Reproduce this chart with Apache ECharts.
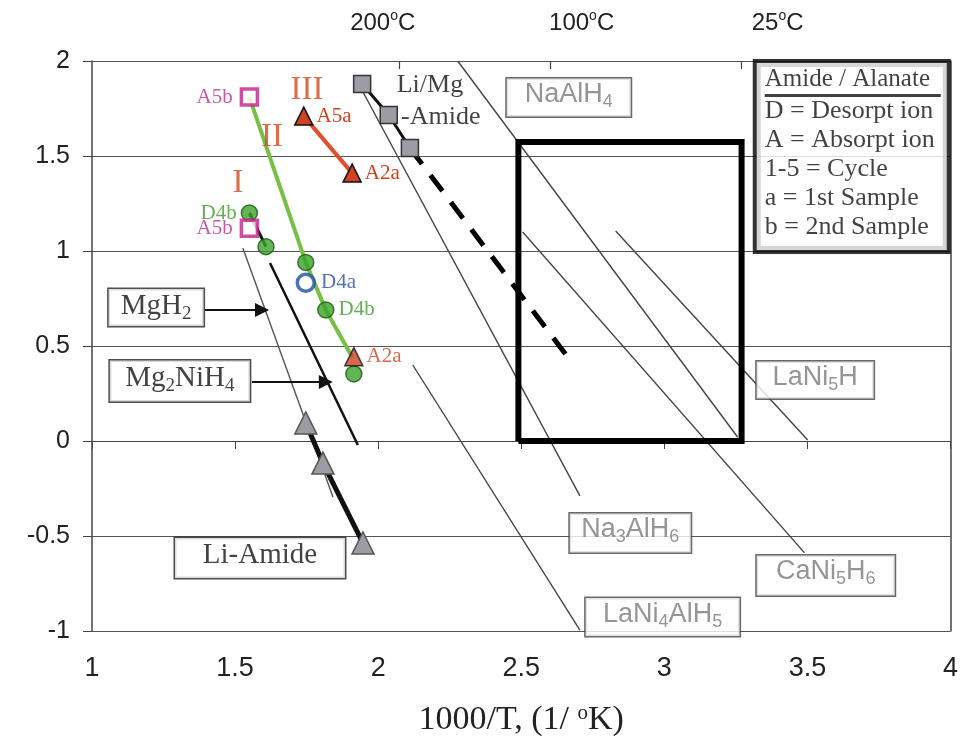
<!DOCTYPE html>
<html>
<head>
<meta charset="utf-8">
<script src="https://cdn.jsdelivr.net/npm/echarts@6/dist/echarts.min.js"></script>
<style>
  html, body { margin: 0; padding: 0; background: #fff; }
  #chart { width: 961px; height: 743px; }
</style>
</head>
<body>
<div id="chart"></div>
<script>
// Axis ranges and tick labels
const xTicks = [1, 1.5, 2, 2.5, 3, 3.5, 4];
const yTicks = [-1, -0.5, 0, 0.5, 1, 1.5, 2];
const tempLabels = ['200', '100', '25'];
const tempLabelX = [2.016, 2.711, 3.396];
const tempTickX = [2.072, 2.603, 3.27];

// Li/Mg-Amide measurements and extrapolation
const liMgX = [1.944, 2.037, 2.111];
const liMgY = [1.879, 1.716, 1.542];
const liMgExtX = [2.111, 2.681];
const liMgExtY = [1.542, 0.405];

// Alanate series (II: green line, III: red line)
const seriesIIX = [1.55, 1.747, 1.817, 1.91];
const seriesIIY = [1.81, 0.94, 0.69, 0.44];
const seriesIIIX = [1.74, 1.909];
const seriesIIIY = [1.71, 1.41];
const seriesIX = [1.55, 1.608];
const seriesIY = [1.2, 1.023];

// Individual points
const greenX = [1.55, 1.608, 1.747, 1.817, 1.915];
const greenY = [1.2, 1.023, 0.94, 0.69, 0.353];
const greenTags = ['D4b', '', '', 'D4b', ''];
const magentaX = [1.55, 1.55];
const magentaY = [1.81, 1.12];
const blueX = [1.747];
const blueY = [0.833];
const redLowX = [1.915];
const redLowY = [0.444];

// Li-Amide
const liAmideX = [1.747, 1.807, 1.947];
const liAmideY = [0.095, -0.116, -0.537];

// Reference hydride lines [x0, y0, x1, y1]
const mgH2Line = [1.527, 1.016, 1.842, -0.295];
const mg2NiH4Line = [1.622, 0.937, 1.929, -0.021];
const na3AlH6Line = [1.947, 1.837, 2.705, -0.289];
const naAlH4Line = [2.278, 2.0, 3.256, 0.021];
const caNi5H6Line = [2.505, 1.1, 3.49, -0.589];
const laNi5HLine = [2.83, 1.105, 3.501, 0.005];
const laNi4AlH5Line = [2.121, 0.4, 2.705, -0.995];

// Target window
const boxX = [2.49, 2.49, 3.27, 3.27, 2.49];
const boxY = [0, 1.574, 1.574, 0, 0];

const SERIF = 'Liberation Serif, Times New Roman, serif';
const SANS = 'Liberation Sans, Arial, sans-serif';
const NARROW = 'Liberation Sans Narrow, Arial Narrow, Liberation Sans, sans-serif';

const pairs = (xs, ys) => xs.map((x, i) => [x, ys[i]]);
const seg = (l) => [[l[0], l[1]], [l[2], l[3]]];

function richSet(family, size, color) {
  return {
    t: { fontFamily: family, fontSize: size, color: color, lineHeight: size + 6 },
    s: { fontFamily: family, fontSize: Math.round(size * 0.65), color: color, lineHeight: Math.round(size * 0.6), verticalAlign: 'bottom' },
    p: { fontFamily: family, fontSize: Math.round(size * 0.6), color: color, lineHeight: Math.round(size * 0.6), verticalAlign: 'top' }
  };
}

function thinLine(l, color, width) {
  return {
    type: 'line', data: seg(l), symbol: 'none', silent: true, z: 2,
    lineStyle: { color: color, width: width }
  };
}

// Framed annotation: [x, y, rich text, width, height, family, size, color, border]
const framed = [
  [1.224, 0.703, '{t|MgH}{s|2}', 98, 40, SERIF, 29, '#111', '#222'],
  [1.307, 0.316, '{t|Mg}{s|2}{t|NiH}{s|4}', 143, 44, SERIF, 29, '#111', '#222'],
  [1.587, -0.616, '{t|Li-Amide}', 173, 43, SERIF, 29, '#111', '#222'],
  [2.666, 1.808, '{t|NaAlH}{s|4}', 127, 41, SANS, 27, '#7a7a7a', '#444'],
  [3.527, 0.321, '{t|LaNi}{s|5}{t|H}', 120, 40, SANS, 27, '#7a7a7a', '#444'],
  [2.881, -0.484, '{t|Na}{s|3}{t|AlH}{s|6}', 124, 42, SANS, 27, '#7a7a7a', '#444'],
  [3.564, -0.708, '{t|CaNi}{s|5}{t|H}{s|6}', 141, 43, SANS, 27, '#7a7a7a', '#444'],
  [2.994, -0.926, '{t|LaNi}{s|4}{t|AlH}{s|5}', 157, 41, SANS, 27, '#7a7a7a', '#444']
];

// Free text: [x, y, text, family, size, color]
const freeText = [
  [1.751, 1.847, 'III', SERIF, 33, '#cf4a1e'],
  [1.629, 1.6, 'II', SERIF, 33, '#cf4a1e'],
  [1.51, 1.358, 'I', SERIF, 33, '#cf4a1e'],
  [2.181, 1.874, 'Li/Mg', SERIF, 26, '#111'],
  [2.219, 1.705, '-Amide', SERIF, 26, '#111']
];

const legendLines = ['D = Desorpt ion', 'A = Absorpt ion', '1-5 = Cycle', 'a = 1st Sample', 'b = 2nd Sample'];
const legendTitle = 'Amide / Alanate';
const legendAnchor = [3.323, 1.99];

const chart = echarts.init(document.getElementById('chart'));

const axisColor = '#444';

const option = {
  animation: false,
  backgroundColor: '#fff',
  grid: { left: 92, right: 10, top: 61, bottom: 112 },
  xAxis: [
    {
      type: 'value', min: 1, max: 4, interval: 0.5, position: 'bottom',
      axisLine: { show: false, onZero: false },
      axisTick: { show: false },
      splitLine: { show: false },
      axisLabel: { fontFamily: NARROW, fontSize: 27, color: '#222', margin: 24 },
      name: '1000/T, (1/ {p|o}K)', nameLocation: 'middle', nameGap: 72,
      nameTextStyle: {
        fontFamily: SERIF, fontSize: 34, color: '#222',
        rich: { p: { fontFamily: SERIF, fontSize: 21, color: '#222', verticalAlign: 'top', lineHeight: 21 } }
      }
    },
    {
      type: 'value', min: 1, max: 4, interval: 0.5, position: 'bottom',
      axisLine: { show: true, onZero: true, onZeroAxisIndex: 0, lineStyle: { color: axisColor, width: 1 } },
      axisTick: { show: true, length: 8, lineStyle: { color: axisColor } },
      axisLabel: { show: false },
      splitLine: { show: false }
    },
    {
      type: 'value', min: 1, max: 4, position: 'top',
      axisLine: { show: false, onZero: false },
      axisTick: { show: true, inside: true, length: 8, customValues: tempTickX, lineStyle: { color: axisColor, width: 1.2 } },
      axisLabel: {
        customValues: tempLabelX, margin: 24,
        formatter: (v) => {
          let best = 0;
          tempLabelX.forEach((p, i) => { if (Math.abs(p - v) < Math.abs(tempLabelX[best] - v)) best = i; });
          return '{t|' + tempLabels[best] + '}{p|o}{t|C}';
        },
        rich: {
          t: { fontFamily: NARROW, fontSize: 24, color: '#222', lineHeight: 28 },
          p: { fontFamily: NARROW, fontSize: 14, color: '#222', lineHeight: 14, verticalAlign: 'top' }
        }
      },
      splitLine: { show: false }
    }
  ],
  yAxis: [
    {
      type: 'value', min: -1, max: 2, interval: 0.5,
      axisLine: { show: true, onZero: false, lineStyle: { color: axisColor, width: 1.5 } },
      axisTick: { show: true, length: 9, lineStyle: { color: axisColor } },
      axisLabel: { fontFamily: NARROW, fontSize: 25, color: '#222', margin: 22 },
      splitLine: { show: true, lineStyle: { color: '#555', width: 1.2 } }
    },
    {
      type: 'value', min: -1, max: 2, interval: 0.5, position: 'right',
      axisLine: { show: true, onZero: false, lineStyle: { color: axisColor, width: 1.5 } },
      axisTick: { show: false }, axisLabel: { show: false }, splitLine: { show: false }
    }
  ],
  series: [
    thinLine(mgH2Line, '#555', 1.4),
    thinLine(mg2NiH4Line, '#111', 2.5),
    thinLine(na3AlH6Line, '#444', 1.4),
    thinLine(naAlH4Line, '#444', 1.4),
    thinLine(caNi5H6Line, '#444', 1.4),
    thinLine(laNi5HLine, '#444', 1.4),
    thinLine(laNi4AlH5Line, '#444', 1.4),
    {
      name: 'Window', type: 'line', data: pairs(boxX, boxY), symbol: 'none', z: 3,
      lineStyle: { color: '#000', width: 6, join: 'miter' }
    },
    {
      name: 'Li/Mg extrapolation', type: 'line', data: pairs(liMgExtX, liMgExtY), symbol: 'none', z: 3,
      lineStyle: { color: '#000', width: 5, type: [20, 14] }
    },
    {
      name: 'Li/Mg-Amide', type: 'line', data: pairs(liMgX, liMgY), z: 5,
      symbol: 'rect', symbolSize: 17,
      lineStyle: { color: '#111', width: 3 },
      itemStyle: { color: '#9c9ca4', borderColor: '#333', borderWidth: 1.5 }
    },
    {
      name: 'Li-Amide', type: 'line', data: pairs(liAmideX, liAmideY), z: 5,
      symbol: 'triangle', symbolSize: 22,
      lineStyle: { color: '#111', width: 5 },
      itemStyle: { color: '#9c9ca4', borderColor: '#555', borderWidth: 1.5 }
    },
    {
      name: 'II', type: 'line', data: pairs(seriesIIX, seriesIIY), symbol: 'none', z: 4,
      lineStyle: { color: '#77c043', width: 4 }
    },
    {
      name: 'I', type: 'line', data: pairs(seriesIX, seriesIY), symbol: 'none', z: 4,
      lineStyle: { color: '#111', width: 3 }
    },
    {
      name: 'III', type: 'line', z: 6,
      data: pairs(seriesIIIX, seriesIIIY).map((p, i) => ({
        value: p,
        label: { show: true, position: 'right', distance: 3, formatter: i === 0 ? 'A5a' : 'A2a', fontFamily: SERIF, fontSize: 21, color: '#d0401a' }
      })),
      symbol: 'triangle', symbolSize: 18,
      lineStyle: { color: '#e0502a', width: 4 },
      itemStyle: { color: '#cc4420', borderColor: '#111', borderWidth: 1.5 }
    },
    {
      name: 'Green points', type: 'scatter', z: 6,
      data: pairs(greenX, greenY).map((p, i) => ({
        value: p,
        label: {
          show: greenTags[i] !== '', position: i === 0 ? 'left' : 'right', distance: 4,
          formatter: greenTags[i], fontFamily: SERIF, fontSize: 21, color: '#3d9a2a'
        }
      })),
      symbol: 'circle', symbolSize: 16,
      itemStyle: { color: '#3aa22a', borderColor: '#1d5a12', borderWidth: 1.5 }
    },
    {
      name: 'Magenta points', type: 'scatter', z: 6,
      data: pairs(magentaX, magentaY).map((p) => ({
        value: p,
        label: { show: true, position: 'left', distance: 7, formatter: 'A5b', fontFamily: SERIF, fontSize: 21, color: '#b8308e' }
      })),
      symbol: 'rect', symbolSize: 16,
      itemStyle: { color: '#fff', borderColor: '#c0208a', borderWidth: 3.5 }
    },
    {
      name: 'Blue point', type: 'scatter', z: 6,
      data: pairs(blueX, blueY).map((p) => ({
        value: p,
        label: { show: true, position: 'right', distance: 5, formatter: 'D4a', fontFamily: SERIF, fontSize: 21, color: '#2850a0' }
      })),
      symbol: 'circle', symbolSize: 17,
      itemStyle: { color: '#fff', borderColor: '#1f4fa8', borderWidth: 3.5 }
    },
    {
      name: 'Red point', type: 'scatter', z: 7,
      data: pairs(redLowX, redLowY).map((p) => ({
        value: p,
        label: { show: true, position: 'right', distance: 3, formatter: 'A2a', fontFamily: SERIF, fontSize: 21, color: '#d0401a' }
      })),
      symbol: 'triangle', symbolSize: 18,
      itemStyle: { color: '#cc4420', borderColor: '#111', borderWidth: 1.5 }
    },
    {
      name: 'Arrows', type: 'lines', coordinateSystem: 'cartesian2d', z: 8,
      symbol: ['none', 'triangle'], symbolSize: [0, 14],
      lineStyle: { color: '#111', width: 2, opacity: 1 },
      data: [
        { coords: [[1.395, 0.689], [1.594, 0.689]] },
        { coords: [[1.559, 0.311], [1.817, 0.311]] }
      ]
    },
    {
      name: 'Framed labels', type: 'scatter', z: 9, symbolSize: 0, silent: true,
      data: framed.map((f) => ({
        value: [f[0], f[1]],
        label: {
          show: true, position: 'inside', formatter: f[2],
          width: f[3] - 3, height: f[4] - 3, align: 'center', verticalAlign: 'middle',
          backgroundColor: '#fff', borderColor: f[8], borderWidth: 1.5,
          rich: richSet(f[5], f[6], f[7])
        }
      }))
    },
    {
      name: 'Free text', type: 'scatter', z: 9, symbolSize: 0, silent: true,
      data: freeText.map((f) => ({
        value: [f[0], f[1]],
        label: { show: true, position: 'inside', formatter: f[2], fontFamily: f[3], fontSize: f[4], color: f[5] }
      }))
    },
    {
      name: 'Key', type: 'scatter', z: 10, symbolSize: 0, silent: true,
      data: [{
        value: legendAnchor,
        label: {
          show: true, position: [0, 0], align: 'left', verticalAlign: 'top',
          formatter: '{h|' + legendTitle + '}\n{r|}\n' + legendLines.map((l) => '{b|' + l + '}').join('\n'),
          backgroundColor: '#fff', borderColor: '#000', borderWidth: 4,
          padding: [3, 6, 8, 8], width: 176,
          rich: {
            h: { fontFamily: SERIF, fontSize: 25, color: '#111', lineHeight: 28 },
            r: { height: 3, width: 176, backgroundColor: '#111', lineHeight: 3 },
            b: { fontFamily: SERIF, fontSize: 26, color: '#111', lineHeight: 29 }
          }
        }
      }]
    }
  ]
};

chart.setOption(option);
</script>
</body>
</html>
